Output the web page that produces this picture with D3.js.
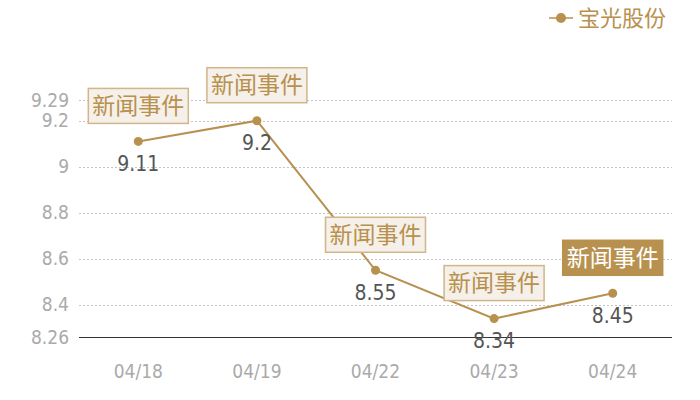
<!DOCTYPE html>
<html>
<head>
<meta charset="utf-8">
<script src="https://cdn.jsdelivr.net/npm/d3@7"></script>
<style>
  body { margin: 0; background: #fff; }
  text { font-family: "Noto Sans CJK SC", "DejaVu Sans", sans-serif; }
  text.num { font-family: "Liberation Sans Narrow", "DejaVu Sans Condensed", sans-serif; }
</style>
</head>
<body>
<div id="chart"></div>
<script>
// data
const dates = ["04/18", "04/19", "04/22", "04/23", "04/24"];
const prices = [9.11, 9.2, 8.55, 8.34, 8.45];
const yTicks = [8.26, 8.4, 8.6, 8.8, 9, 9.2, 9.29];
const seriesName = "宝光股份";
const eventLabel = "新闻事件";
const highlighted = [false, false, false, false, true];

const width = 700, height = 400;
const margin = { top: 100, right: 28, bottom: 63, left: 79 };
const gold = "#b8914f";

const svg = d3.select("#chart").append("svg")
  .attr("width", width)
  .attr("height", height);

const x = d3.scaleBand()
  .domain(dates)
  .range([margin.left, width - margin.right])
  .padding(0);

const y = d3.scaleLinear()
  .domain([8.26, 9.29])
  .range([height - margin.bottom, margin.top]);

// grid lines
svg.append("g")
  .selectAll("line")
  .data(yTicks.filter(d => d !== 8.26))
  .join("line")
  .attr("x1", margin.left)
  .attr("x2", width - margin.right)
  .attr("y1", d => Math.round(y(d)) + 0.5)
  .attr("y2", d => Math.round(y(d)) + 0.5)
  .attr("stroke", "#c4c4c4")
  .attr("stroke-dasharray", "2,2");

// y axis labels
svg.append("g")
  .selectAll("text")
  .data(yTicks)
  .join("text")
  .attr("class", "num")
  .attr("x", 69)
  .attr("y", d => y(d))
  .attr("dy", "0.35em")
  .attr("text-anchor", "end")
  .attr("fill", "#aaa")
  .attr("font-size", 19)
  .text(d => d);

// x axis line
svg.append("line")
  .attr("x1", margin.left)
  .attr("x2", width - margin.right)
  .attr("y1", Math.round(y(8.26)) + 0.5)
  .attr("y2", Math.round(y(8.26)) + 0.5)
  .attr("stroke", "#333")
  .attr("stroke-width", 1);

// x axis labels
svg.append("g")
  .selectAll("text")
  .data(dates)
  .join("text")
  .attr("class", "num")
  .attr("x", d => x(d) + x.bandwidth() / 2)
  .attr("y", 371)
  .attr("dy", "0.35em")
  .attr("text-anchor", "middle")
  .attr("fill", "#aaa")
  .attr("font-size", 19)
  .text(d => d);

const cx = (d, i) => x(dates[i]) + x.bandwidth() / 2;

// line
const line = d3.line()
  .x((d, i) => cx(d, i))
  .y(d => y(d));

svg.append("path")
  .datum(prices)
  .attr("d", line)
  .attr("fill", "none")
  .attr("stroke", gold)
  .attr("stroke-width", 2);

svg.append("g")
  .selectAll("circle")
  .data(prices)
  .join("circle")
  .attr("cx", cx)
  .attr("cy", d => y(d))
  .attr("r", 4.5)
  .attr("fill", gold);

// value labels
svg.append("g")
  .selectAll("text")
  .data(prices)
  .join("text")
  .attr("class", "num")
  .attr("x", cx)
  .attr("y", d => y(d) + 22)
  .attr("dy", "0.35em")
  .attr("text-anchor", "middle")
  .attr("fill", "#555")
  .attr("font-size", 21)
  .text(d => d);

// event annotation boxes
const boxW = 100, boxH = 35;
const ann = svg.append("g")
  .selectAll("g")
  .data(prices)
  .join("g")
  .attr("transform", (d, i) => `translate(${cx(d, i)},${y(d) - 18 - boxH / 2})`);

ann.append("rect")
  .attr("x", -boxW / 2)
  .attr("y", -boxH / 2)
  .attr("width", boxW)
  .attr("height", boxH)
  .attr("fill", (d, i) => highlighted[i] ? gold : "#f5f0e9")
  .attr("stroke", (d, i) => highlighted[i] ? gold : "#d2b589")
  .attr("stroke-width", 1.5);

ann.append("text")
  .attr("text-anchor", "middle")
  .attr("dy", "0.35em")
  .attr("font-size", 23)
  .attr("fill", (d, i) => highlighted[i] ? "#fff" : gold)
  .text(eventLabel);

// legend
const lg = svg.append("g").attr("transform", "translate(561,18)");
lg.append("line")
  .attr("x1", -12).attr("x2", 12)
  .attr("stroke", gold).attr("stroke-width", 1.5);
lg.append("circle").attr("r", 5).attr("fill", gold);
lg.append("text")
  .attr("x", 17)
  .attr("dy", "0.35em")
  .attr("font-size", 22)
  .attr("fill", gold)
  .text(seriesName);
</script>
</body>
</html>
